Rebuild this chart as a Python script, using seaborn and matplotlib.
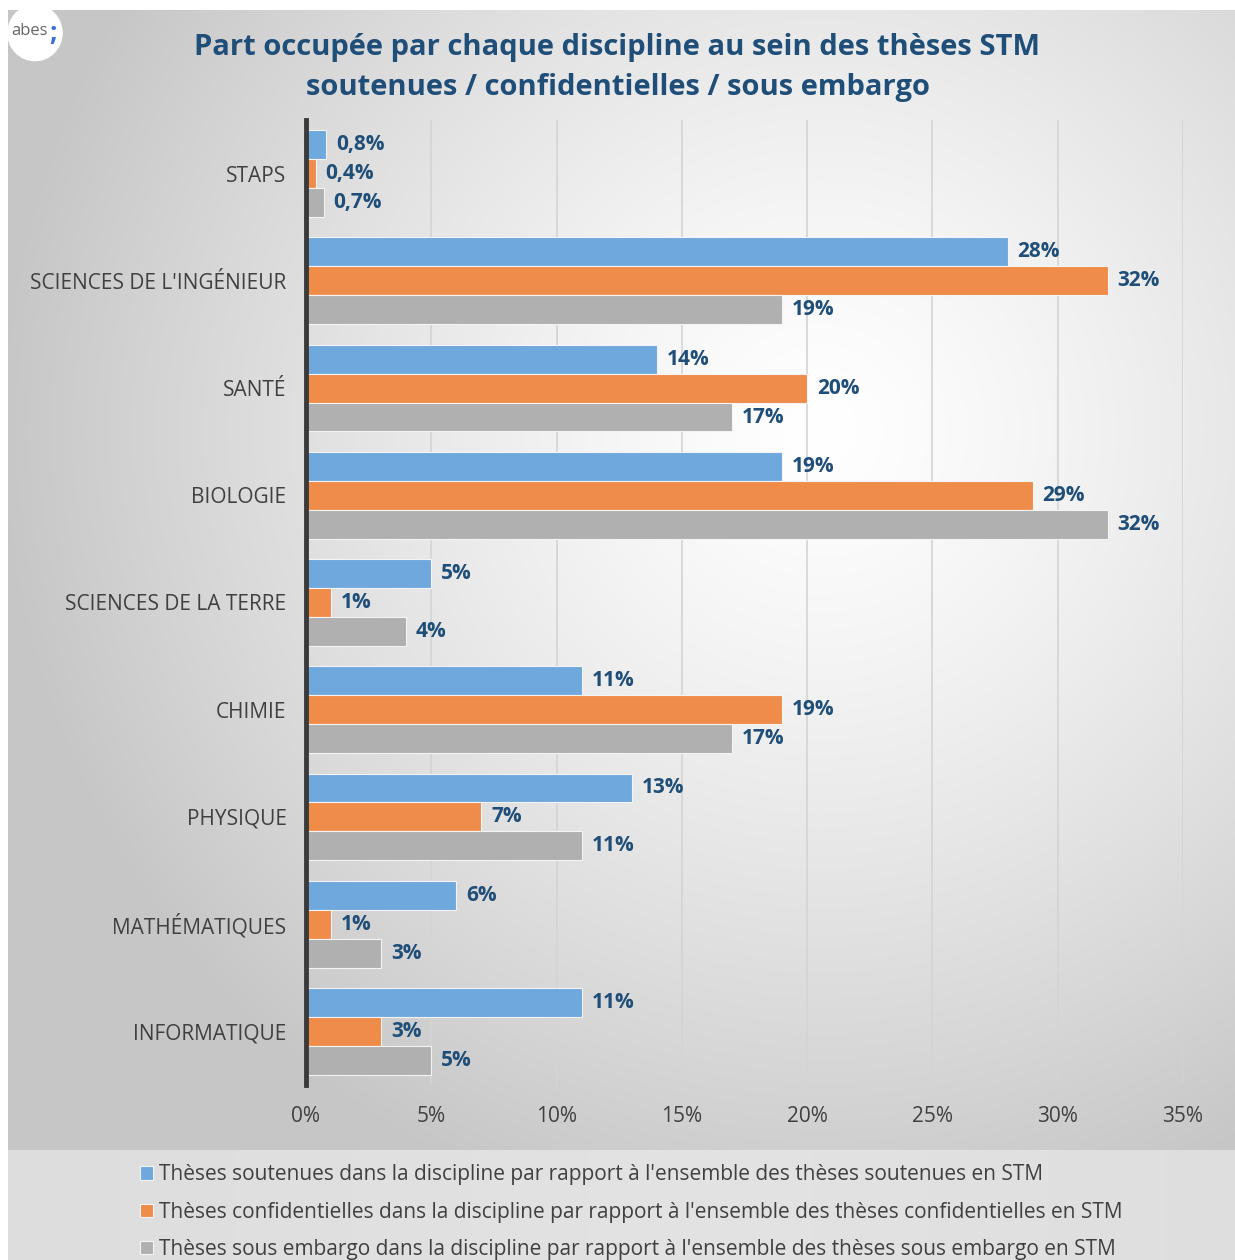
import numpy as np
import pandas as pd
import matplotlib.pyplot as plt
from matplotlib.patches import Circle
import seaborn as sns

# Données
disciplines = ['STAPS', "SCIENCES DE L'INGÉNIEUR", 'SANTÉ', 'BIOLOGIE',
               'SCIENCES DE LA TERRE', 'CHIMIE', 'PHYSIQUE', 'MATHÉMATIQUES',
               'INFORMATIQUE']
soutenues = [0.8, 28, 14, 19, 5, 11, 13, 6, 11]
confidentielles = [0.4, 32, 20, 29, 1, 19, 7, 1, 3]
embargo = [0.7, 19, 17, 32, 4, 17, 11, 3, 5]
series = ["Thèses soutenues dans la discipline par rapport à l'ensemble des thèses soutenues en STM",
          "Thèses confidentielles dans la discipline par rapport à l'ensemble des thèses confidentielles en STM",
          "Thèses sous embargo dans la discipline par rapport à l'ensemble des thèses sous embargo en STM"]
xticks = [0, 5, 10, 15, 20, 25, 30, 35]

df = pd.DataFrame({'discipline': disciplines * 3,
                   'valeur': soutenues + confidentielles + embargo,
                   'serie': [series[0]] * 9 + [series[1]] * 9 + [series[2]] * 9})

colors = ['#6FA8DC', '#F08C4A', '#B0B0B0']
texte = '#404040'
bleu = '#1F4E79'

sns.set_theme(style='white')
plt.rcParams['font.family'] = ['Open Sans', 'DejaVu Sans']

fig = plt.figure(figsize=(12.35, 12.6), dpi=100)

# Fond dégradé
bg = fig.add_axes([0, 0, 1, 1], zorder=-10)
W, H = 1235, 1260
xx, yy = np.meshgrid(np.arange(W), np.arange(H))
d = np.sqrt(((xx - 820) / 900.0) ** 2 + ((yy - 430) / 900.0) ** 2)
grad = np.clip(1.0 - 0.25 * d ** 1.3, 0.78, 1.0)
img = np.dstack([grad] * 3)
img[1150:, :, :] = np.clip(0.89 - 0.02 * np.abs(xx[1150:, :] - 700)[..., None] / 600, 0, 1)
img[:10, :, :] = 1.0
img[:, :8, :] = 1.0
bg.imshow(img, aspect='auto', extent=[0, 1, 0, 1], origin='upper')
bg.axis('off')

# Logo
bg.add_patch(Circle((35 / W, 1 - 33 / H), 0.0225, transform=bg.transAxes,
                    facecolor='white', edgecolor='none'))
bg.text(29 / W, 1 - 31 / H, 'abes', transform=bg.transAxes, ha='center', va='center',
        fontsize=12, color='#666666')
bg.text(53 / W, 1 - 33 / H, ';', transform=bg.transAxes, ha='center', va='center',
        fontsize=19, fontweight='bold', color='#3A6FD8')

ax = fig.add_axes([306 / W, 1 - 1085 / H, (1183 - 306) / W, (1085 - 120) / H])
ax.set_facecolor('none')

sns.barplot(data=df, y='discipline', x='valeur', hue='serie', palette=colors,
            saturation=1, orient='h', width=0.81, edgecolor='#f4f4f4',
            linewidth=0.8, ax=ax, zorder=3, legend=True)

for cont, vals in zip(ax.containers, [soutenues, confidentielles, embargo]):
    labels = [(f'{v:.1f}'.replace('.', ',') if v < 1 else f'{v:.0f}') + '%' for v in vals]
    ax.bar_label(cont, labels=labels, padding=7, color=bleu, fontsize=15,
                 fontweight='bold')

ax.set_xlim(0, 35)
ax.set_ylim(8.5, -0.5)
ax.set_xticks(xticks)
ax.set_xticklabels([f'{t}%' for t in xticks], color=texte, fontsize=15)
ax.tick_params(axis='x', length=0, pad=15)
ax.tick_params(axis='y', length=0, pad=14, labelsize=15, labelcolor=texte)
ax.set_xlabel('')
ax.set_ylabel('')
ax.xaxis.grid(True, color='#D4D4D4', linewidth=1.2, zorder=0)
ax.set_axisbelow(True)
for s in ['top', 'right', 'bottom']:
    ax.spines[s].set_visible(False)
ax.spines['left'].set_color('#3A3A3A')
ax.spines['left'].set_linewidth(3.5)
ax.spines['left'].set_zorder(5)

# Titre
fig.text(0.5 + 0 / W, 1 - 67 / H,
         'Part occupée par chaque discipline au sein des thèses STM\nsoutenues / confidentielles / sous embargo',
         ha='center', va='center', fontsize=21, fontweight='bold', color=bleu,
         linespacing=1.5)

# Légende
handles, lbls = ax.get_legend_handles_labels()
ax.get_legend().remove()
fig.legend(handles, lbls, loc='upper left', bbox_to_anchor=(130 / W, 1 - 1154 / H),
           frameon=False, fontsize=15, labelcolor=texte, handlelength=0.6,
           handleheight=0.6, handletextpad=0.3, labelspacing=0.78, borderpad=0)

fig.savefig('out.png', dpi=100)
